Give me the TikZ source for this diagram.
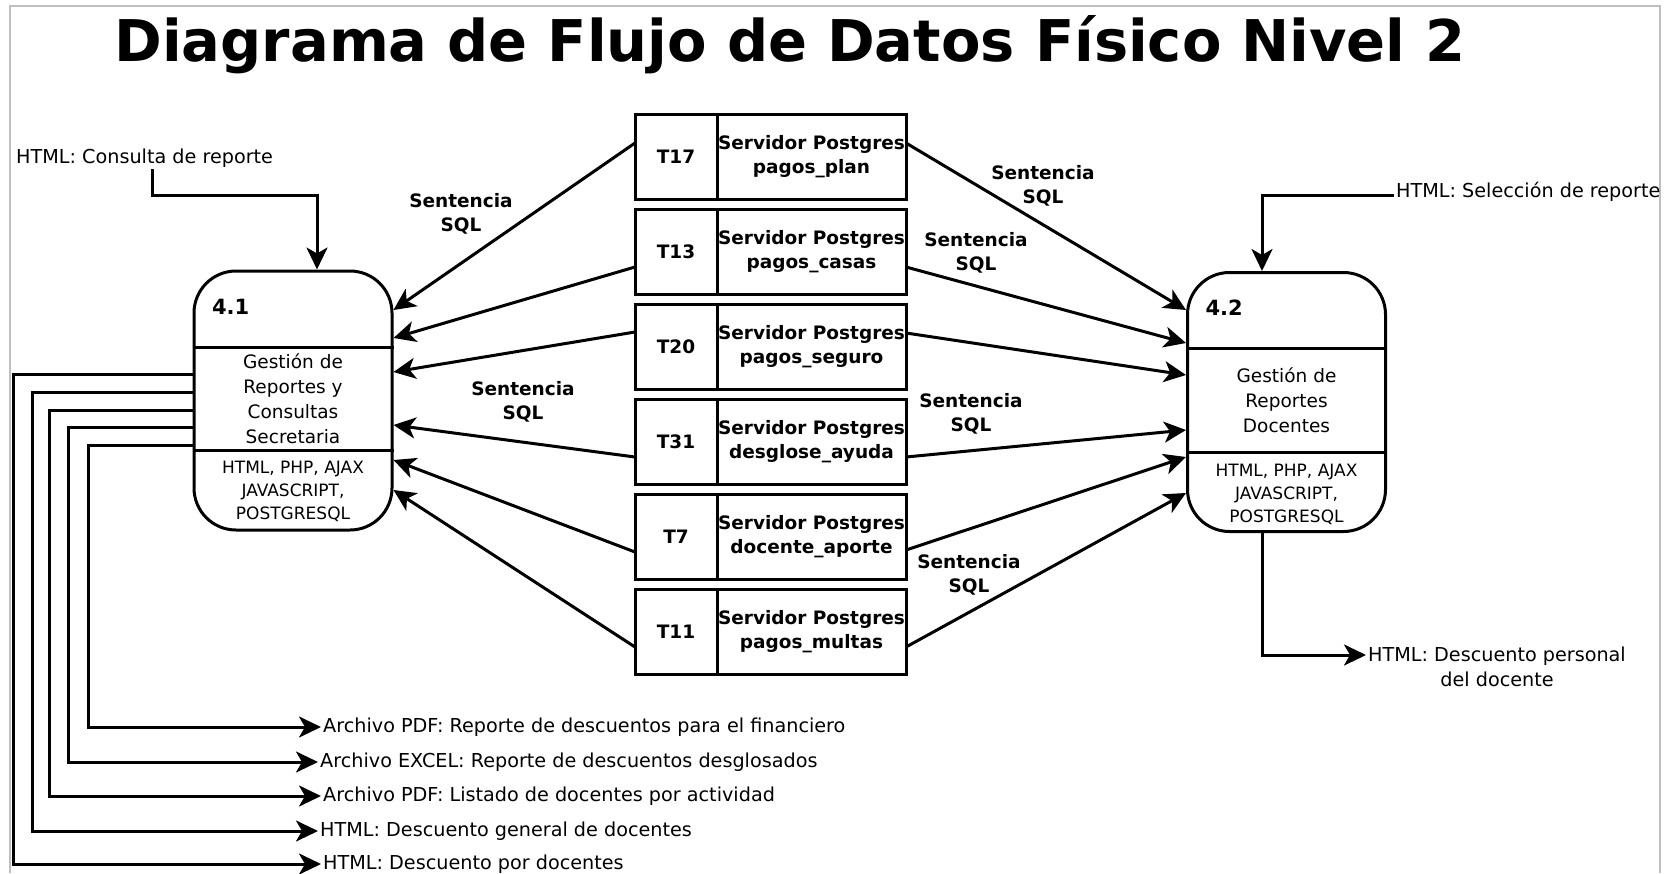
\documentclass[tikz,border=0pt]{standalone}
\usepackage{fontspec}
\setmainfont{DejaVu Sans}
\usetikzlibrary{positioning,arrows.meta}

\begin{document}
\begin{tikzpicture}
[
    x = 1pt, y = -1pt,
    process/.style   = {draw,
                        line width=3pt,
                        rounded corners=42pt,
                        minimum width=198pt,
                        minimum height=259pt},
    divider/.style   = {line width=3pt},
    storeid/.style   = {draw,
                        line width=3pt,
                        outer sep=0pt,
                        minimum width=82pt,
                        minimum height=85pt,
                        font=\bfseries\fontsize{18.5}{24}\selectfont},
    storename/.style = {draw,
                        line width=3pt,
                        outer sep=0pt,
                        inner sep=1pt,
                        align=center,
                        minimum width=189pt,
                        minimum height=85pt,
                        font=\bfseries\fontsize{18.5}{24}\selectfont},
    procid/.style    = {anchor=west,
                        font=\bfseries\fontsize{21}{24}\selectfont},
    procname/.style  = {align=center,
                        font=\fontsize{18.5}{25}\selectfont},
    proctech/.style  = {align=center,
                        font=\fontsize{17}{23}\selectfont},
    sqllabel/.style  = {align=center,
                        font=\bfseries\fontsize{18.5}{24}\selectfont},
    flowlabel/.style = {inner sep=2pt,
                        font=\fontsize{19.2}{25}\selectfont},
    arr/.style       = {line width=3pt,
                        -{Stealth[length=22pt,width=21pt,inset=6pt]}},
    frame/.style     = {line width=2pt, black!25}
]

\useasboundingbox (0,0) rectangle (1665,873);
\draw[frame] (10,873) -- (10,6) -- (1660,6) -- (1660,873);

\node (title) [anchor=base, font=\bfseries\fontsize{57.5}{60}\selectfont] at (790,61.5) {
Diagrama de Flujo de Datos Físico Nivel 2
};

\node (p41) [process] at (293,400.5) {};
\node (p42) [process] at (1286.5,402) {};

\draw[divider] ([yshift=-77.5pt]p41.north west) -- ([yshift=-77.5pt]p41.north east);
\draw[divider] ([yshift=-181pt]p41.north west) -- ([yshift=-181pt]p41.north east);
\draw[divider] ([yshift=-77.5pt]p42.north west) -- ([yshift=-77.5pt]p42.north east);
\draw[divider] ([yshift=-181pt]p42.north west) -- ([yshift=-181pt]p42.north east);

\node (p41id) [procid] at ([shift={(16,37)}]p41.north west) {4.1};
\node (p41name) [procname] at ([yshift=-129.5pt]p41.north) {
Gestión de\\Reportes y\\Consultas\\Secretaria
};
\node (p41tech) [proctech] at ([yshift=40.5pt]p41.south) {
HTML, PHP, AJAX\\JAVASCRIPT,\\POSTGRESQL
};

\node (p42id) [procid] at ([shift={(16,37)}]p42.north west) {4.2};
\node (p42name) [procname] at ([yshift=-129pt]p42.north) {
Gestión de\\Reportes\\Docentes
};
\node (p42tech) [proctech] at ([yshift=38.5pt]p42.south) {
HTML, PHP, AJAX\\JAVASCRIPT,\\POSTGRESQL
};

\node (t17) [storeid] at (676,156.5) {T17};
\node (t17n) [storename, right=0pt of t17] {Servidor Postgres\\pagos\_plan};
\node (t13) [storeid, below=10pt of t17] {T13};
\node (t13n) [storename, right=0pt of t13] {Servidor Postgres\\pagos\_casas};
\node (t20) [storeid, below=10pt of t13] {T20};
\node (t20n) [storename, right=0pt of t20] {Servidor Postgres\\pagos\_seguro};
\node (t31) [storeid, below=10pt of t20] {T31};
\node (t31n) [storename, right=0pt of t31] {Servidor Postgres\\desglose\_ayuda};
\node (t7) [storeid, below=10pt of t31] {T7};
\node (t7n) [storename, right=0pt of t7] {Servidor Postgres\\docente\_aporte};
\node (t11) [storeid, below=10pt of t7] {T11};
\node (t11n) [storename, right=0pt of t11] {Servidor Postgres\\pagos\_multas};

\node (sql1) [sqllabel] at (461,214) {Sentencia\\SQL};
\node (sql2) [sqllabel] at (523,402) {Sentencia\\SQL};
\node (sql3) [sqllabel] at (1043,186) {Sentencia\\SQL};
\node (sql4) [sqllabel] at (976,253) {Sentencia\\SQL};
\node (sql5) [sqllabel] at (971,414) {Sentencia\\SQL};
\node (sql6) [sqllabel] at (969,575) {Sentencia\\SQL};

\node (inconsulta) [flowlabel, anchor=west] at (14,158) {HTML: Consulta de reporte};
\node (inseleccion) [flowlabel, anchor=west] at (1394,192) {HTML: Selección de reporte};
\node (outpersonal) [flowlabel, anchor=west, align=center] at (1366,667) {
HTML: Descuento personal\\del docente
};
\node (out1) [flowlabel, anchor=west] at (321,727) {Archivo PDF: Reporte de descuentos para el financiero};
\node (out2) [flowlabel, anchor=west] at (318,762) {Archivo EXCEL: Reporte de descuentos desglosados};
\node (out3) [flowlabel, anchor=west] at (321,796) {Archivo PDF: Listado de docentes por actividad};
\node (out4) [flowlabel, anchor=west] at (318,831) {HTML: Descuento general de docentes};
\node (out5) [flowlabel, anchor=west] at (321,864) {HTML: Descuento por docentes};

\draw[arr] ([yshift=13.5pt]t17.west) -- ([yshift=90.5pt]p41.east);
\draw[arr] ([yshift=-15.5pt]t13.west) -- ([yshift=62.5pt]p41.east);
\draw[arr] ([yshift=14.5pt]t20.west) -- ([yshift=28.5pt]p41.east);
\draw[arr] ([yshift=-15.5pt]t31.west) -- ([yshift=-24.5pt]p41.east);
\draw[arr] ([yshift=-15.5pt]t7.west) -- ([yshift=-59.5pt]p41.east);
\draw[arr] ([yshift=-15.5pt]t11.west) -- ([yshift=-89.5pt]p41.east);

\draw[arr] ([yshift=13.5pt]t17n.east) -- ([yshift=92pt]p42.west);
\draw[arr] ([yshift=-15.5pt]t13n.east) -- ([yshift=59pt]p42.west);
\draw[arr] ([yshift=13.5pt]t20n.east) -- ([yshift=27pt]p42.west);
\draw[arr] ([yshift=-15.5pt]t31n.east) -- ([yshift=-28pt]p42.west);
\draw[arr] ([yshift=-13.5pt]t7n.east) -- ([yshift=-55pt]p42.west);
\draw[arr] ([yshift=-15.5pt]t11n.east) -- ([yshift=-91pt]p42.west);

\draw[arr] ([xshift=138pt]inconsulta.south west) -- ++(0,26) -| ([xshift=24pt]p41.north);
\draw[arr] ([yshift=-3pt]inseleccion.west) -| ([xshift=-24.5pt]p42.north);
\draw[arr] ([xshift=-24.5pt]p42.south) |- ([yshift=12pt]outpersonal.west);

\draw[arr] ([yshift=-44.5pt]p41.west) -- ++(-104.5,0) |- (out1.west);
\draw[arr] ([yshift=-26.5pt]p41.west) -- ++(-124.5,0) |- (out2.west);
\draw[arr] ([yshift=-9.5pt]p41.west) -- ++(-143.5,0) |- (out3.west);
\draw[arr] ([yshift=8.5pt]p41.west) -- ++(-160.5,0) |- (out4.west);
\draw[arr] ([yshift=26.5pt]p41.west) -- ++(-179.5,0) |- (out5.west);

\end{tikzpicture}
\end{document}
